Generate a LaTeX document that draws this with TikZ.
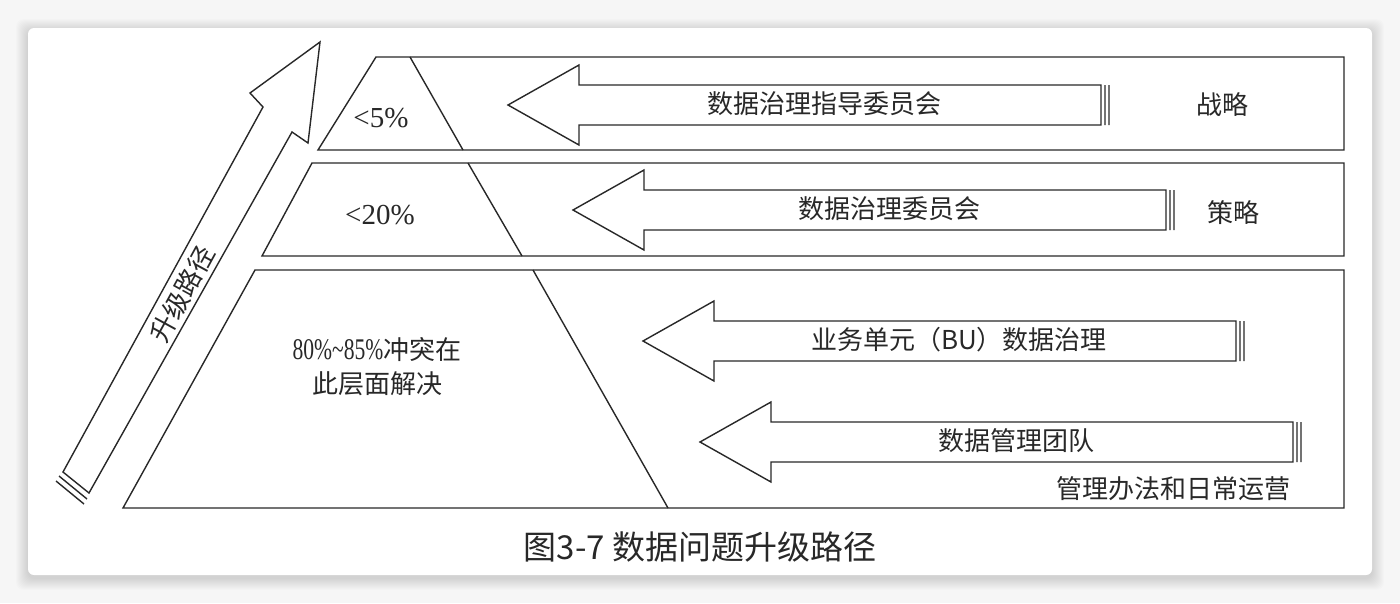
\documentclass[tikz,border=0pt]{standalone}
\usepackage{fontspec}
\setmainfont{Liberation Serif}
\newfontfamily\cjk{Noto Sans CJK SC}
\usetikzlibrary{positioning}
\definecolor{inkgray}{RGB}{40,40,40}
\definecolor{pagegray}{RGB}{246,246,246}

\begin{document}
\begin{tikzpicture}[x=1pt, y=-1pt,
    bandline/.style={draw=inkgray, line width=1.4pt},
    bigarrow/.style={draw=inkgray, line width=1.4pt, fill=white},
    cntext/.style={font=\cjk\fontsize{26}{34}\selectfont, text=inkgray, inner sep=0pt},
    pcttext/.style={font=\fontsize{29}{34}\selectfont, text=inkgray, inner sep=0pt}]
    \useasboundingbox (0,0) rectangle (1400,603);
    \fill[pagegray] (0,0) rectangle (1400,603);
    % card with a soft shadow
    \foreach \d in {1,...,12}
        \fill[black, opacity=0.012, rounded corners=8pt] (28-\d,28-\d+3) rectangle (1372+\d,575+\d+3);
    \fill[white, rounded corners=6pt] (28,28) rectangle (1372,575);

    % pyramid bands
    \draw[bandline] (376,57) -- (1344,57) -- (1344,150) -- (318,150) -- cycle;
    \draw[bandline] (410,57) -- (463,150);
    \draw[bandline] (312,163) -- (1344,163) -- (1344,256) -- (262,256) -- cycle;
    \draw[bandline] (468,163) -- (522,256);
    \draw[bandline] (255,270) -- (1344,270) -- (1344,508) -- (123,508) -- cycle;
    \draw[bandline] (533,270) -- (668,508);

    % escalation arrow
    \draw[bigarrow] (63,472) -- (263,107) -- (250,93) -- (320,42) -- (308,143) -- (292,132) -- (89,493) -- cycle;
    \draw[bandline] (59,476) -- (87,499) (56,481) -- (84,504);
    \node[cntext, rotate=61.3] (path) at (182,294) {升级路径};

    % left arrows
    \draw[bigarrow, shift={(508,105)}] (0,0) -- (71,-40) -- (71,-20) -- (593,-20) -- (593,20) -- (71,20) -- (71,40) -- cycle
        (597,-20) -- (597,20) (601,-20) -- (601,20);
    \draw[bigarrow, shift={(573,210)}] (0,0) -- (71,-40) -- (71,-20) -- (593,-20) -- (593,20) -- (71,20) -- (71,40) -- cycle
        (597,-20) -- (597,20) (601,-20) -- (601,20);
    \draw[bigarrow, shift={(643,341)}] (0,0) -- (71,-40) -- (71,-20) -- (593,-20) -- (593,20) -- (71,20) -- (71,40) -- cycle
        (597,-20) -- (597,20) (601,-20) -- (601,20);
    \draw[bigarrow, shift={(700,442)}] (0,0) -- (71,-40) -- (71,-20) -- (593,-20) -- (593,20) -- (71,20) -- (71,40) -- cycle
        (597,-20) -- (597,20) (601,-20) -- (601,20);

    \node[cntext] (steering) at (824,104) {数据治理指导委员会};
    \node[cntext] (council) at (889,209) {数据治理委员会};
    \node[cntext] (bu) at (959,340) {业务单元（BU）数据治理};
    \node[cntext] (team) at (1016,441) {数据管理团队};

    % level names
    \node[cntext] (strategy) at (1222,105) {战略};
    \node[cntext] (tactics) at (1233,213) {策略};
    \node[cntext] (ops) at (1173,489) {管理办法和日常运营};

    % shares
    \node[pcttext] (top) at (381,118) {<5\%};
    \node[pcttext] (mid) at (380,215) {<20\%};
    \node[cntext, align=center] (base) at (377,367)
        {{\rmfamily\fontsize{30}{34}\selectfont\scalebox{0.72}[1]{80\%\textasciitilde85\%}}冲突在\\此层面解决};

    \node[font=\cjk\fontsize{33}{36}\selectfont, text=inkgray] (caption) at (700,547) {图3-7 数据问题升级路径};
\end{tikzpicture}
\end{document}
